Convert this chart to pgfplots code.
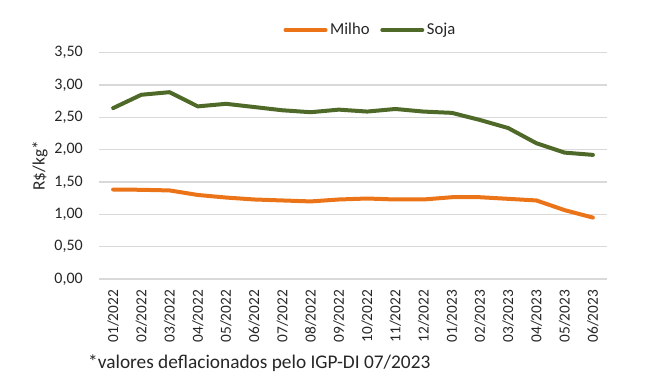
\documentclass[border=0pt]{standalone}
\usepackage{pgfplots}
\pgfplotsset{compat=1.18}
\usepackage{fontspec}
\setmainfont{Carlito}
\definecolor{milho}{HTML}{EC7418}
\definecolor{soja}{HTML}{4F6A28}
\definecolor{gridc}{HTML}{D9D9D9}
\definecolor{txt}{HTML}{262626}
\begin{document}
\begin{tikzpicture}[x=1pt,y=1pt]
\begin{axis}[
  scale only axis,
  width=381pt, height=169.7pt,
  xmin=-0.5, xmax=17.5,
  ymin=0, ymax=3.5,
  xtick={0,...,17},
  xticklabels={01/2022,02/2022,03/2022,04/2022,05/2022,06/2022,07/2022,08/2022,09/2022,10/2022,11/2022,12/2022,01/2023,02/2023,03/2023,04/2023,05/2023,06/2023},
  ytick={0,0.5,...,3.5},
  /pgf/number format/.cd, fixed, fixed zerofill, precision=2, use comma, assume math mode=true,
  /pgfplots/.cd,
  ymajorgrids,
  major grid style={draw=gridc, line width=1pt},
  axis line style={draw=none},
  tick style={draw=none},
  xticklabel style={rotate=90, anchor=east, inner sep=0pt, font=\fontsize{11.5}{13}\selectfont, text=txt},
  yticklabel style={anchor=east, inner sep=0pt, font=\fontsize{12}{14}\selectfont, text=txt},
  xticklabel shift=8pt,
  yticklabel shift=12pt,
  legend columns=2,
  legend style={draw=none, fill=none, at={(rel axis cs:0.535,1.1)}, anchor=center,
    font=\fontsize{12.5}{15}\selectfont, text=txt,
    /tikz/every even column/.append style={column sep=6pt}},
  legend image code/.code={\draw[#1, line width=3pt] (0pt,0pt) -- (30pt,0pt);},
  clip=false,
]
\addplot[milho, line width=3pt, line join=round, line cap=round] coordinates {
(0,1.384) (1,1.38) (2,1.37) (3,1.30) (4,1.26) (5,1.23) (6,1.215) (7,1.20) (8,1.23)
(9,1.245) (10,1.23) (11,1.23) (12,1.265) (13,1.265) (14,1.24) (15,1.215) (16,1.065) (17,0.95)};
\addlegendentry{Milho}
\addplot[soja, line width=3pt, line join=round, line cap=round] coordinates {
(0,2.643) (1,2.85) (2,2.89) (3,2.67) (4,2.71) (5,2.66) (6,2.61) (7,2.58) (8,2.62)
(9,2.59) (10,2.63) (11,2.59) (12,2.57) (13,2.46) (14,2.335) (15,2.10) (16,1.955) (17,1.92)};
\addlegendentry{Soja}
\node[rotate=90, anchor=center, font=\fontsize{13}{15}\selectfont, text=txt] at (rel axis cs:-0.116,0.5) {R\$/kg*};
\node[anchor=west, inner sep=0pt, font=\fontsize{14.5}{17}\selectfont, text=txt] at (rel axis cs:-0.0217,-0.371) {*valores deflacionados pelo IGP-DI 07/2023};
\end{axis}
\path[use as bounding box] (-74.25pt,-81pt) rectangle (414pt,209.25pt);
\end{tikzpicture}
\end{document}
